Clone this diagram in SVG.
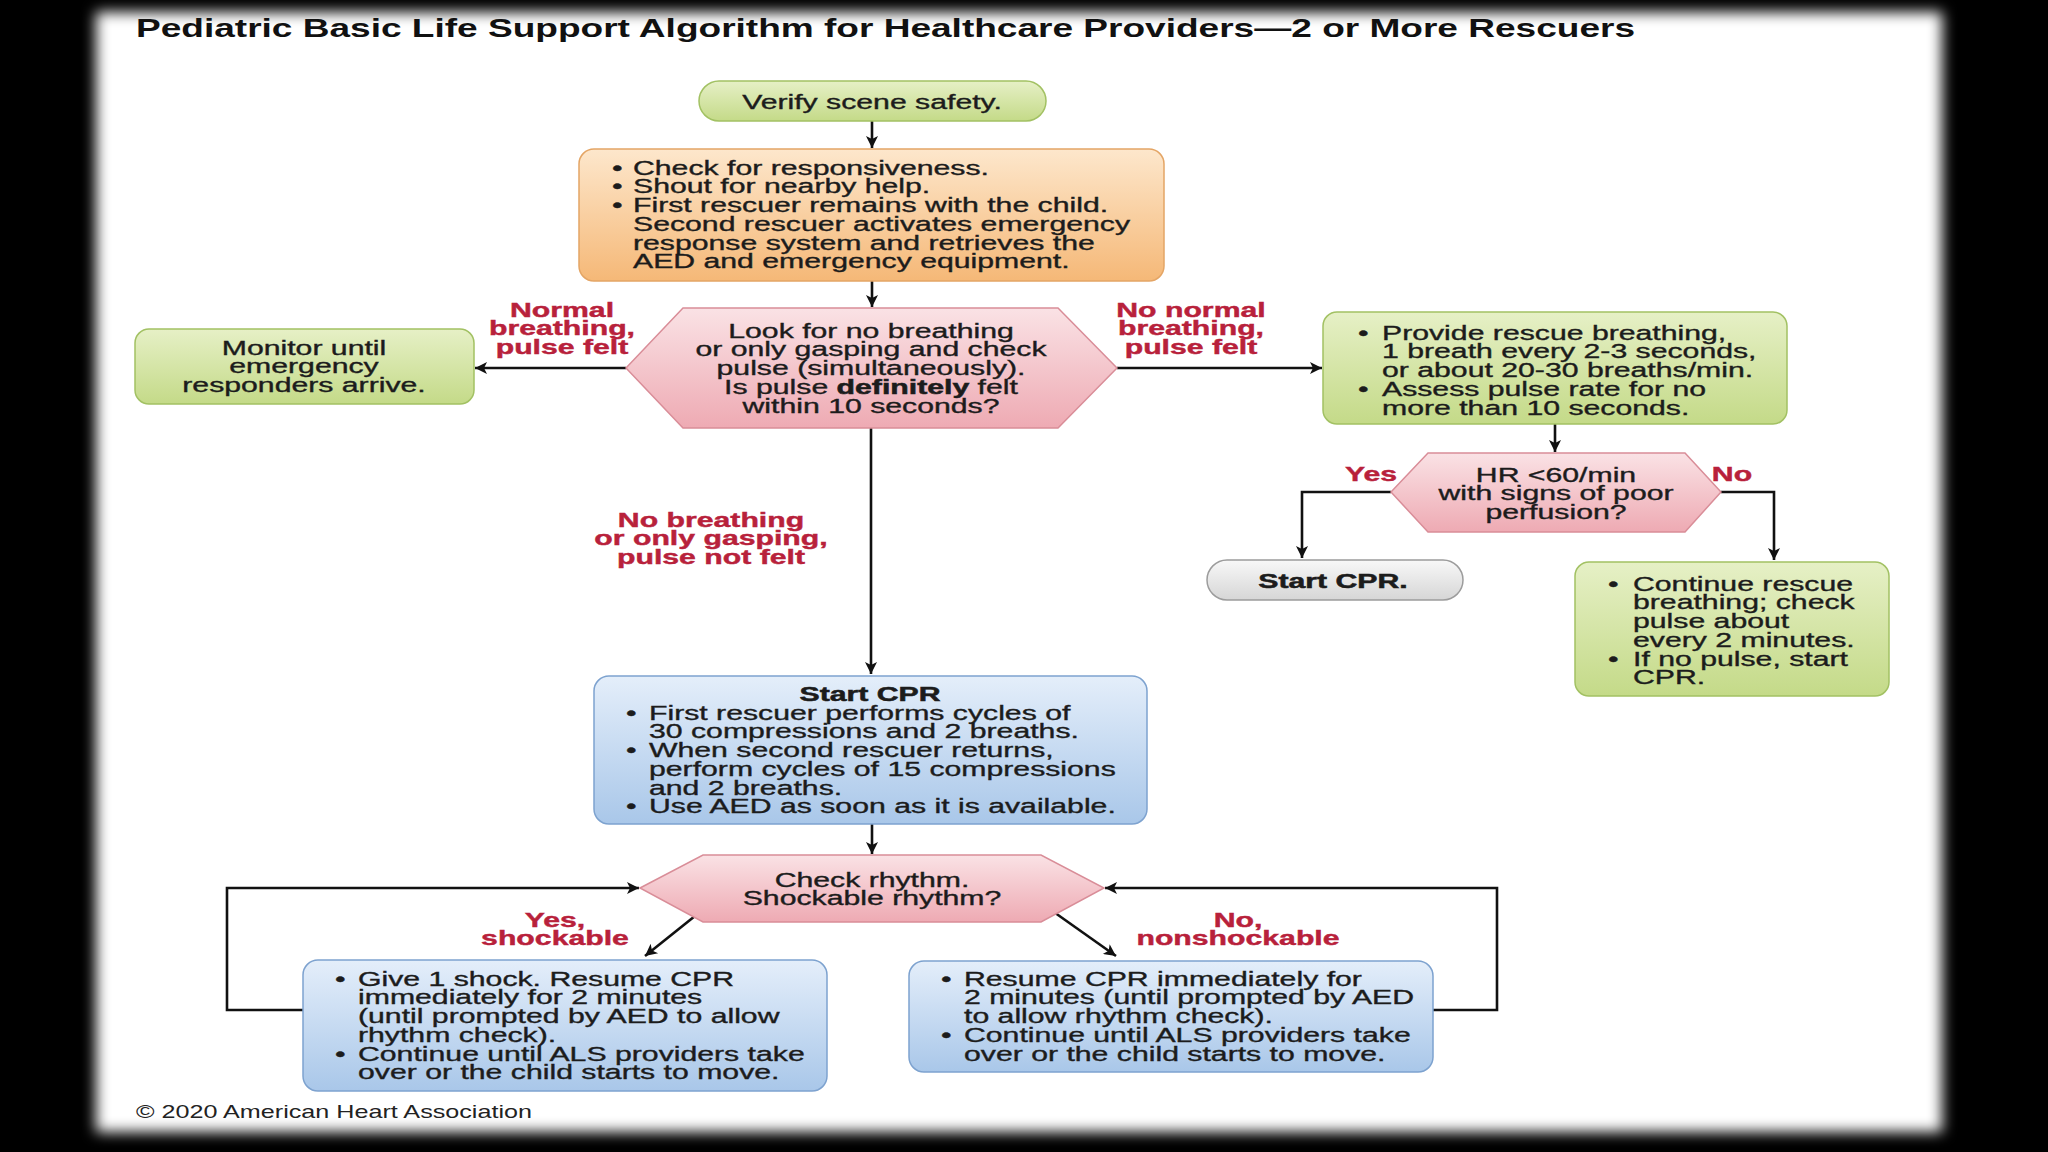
<svg xmlns="http://www.w3.org/2000/svg" width="2048" height="1152" viewBox="0 0 2048 1152">
<defs>
<filter id="soft" x="-5%" y="-5%" width="110%" height="110%"><feGaussianBlur stdDeviation="7"/></filter>
<linearGradient id="gGreen" x1="0" y1="0" x2="0" y2="1"><stop offset="0" stop-color="#e6f0c6"/><stop offset="1" stop-color="#c4da88"/></linearGradient>
<linearGradient id="gOrange" x1="0" y1="0" x2="0" y2="1"><stop offset="0" stop-color="#fde7cc"/><stop offset="1" stop-color="#f5b877"/></linearGradient>
<linearGradient id="gPink" x1="0" y1="0" x2="0" y2="1"><stop offset="0" stop-color="#fae2e5"/><stop offset="1" stop-color="#eeaab3"/></linearGradient>
<linearGradient id="gBlue" x1="0" y1="0" x2="0" y2="1"><stop offset="0" stop-color="#e4eefa"/><stop offset="1" stop-color="#a9c7e9"/></linearGradient>
<linearGradient id="gGray" x1="0" y1="0" x2="0" y2="1"><stop offset="0" stop-color="#f8f8f8"/><stop offset="1" stop-color="#d6d6d6"/></linearGradient>
<marker id="arr" viewBox="0 0 10 10" markerWidth="14" markerHeight="12" refX="10" refY="5" orient="auto" markerUnits="userSpaceOnUse"><path d="M0,0 L10,5 L0,10 L2.5,5 z" fill="#111"/></marker>
<style>
.t{font-family:"Liberation Sans",Arial,sans-serif;font-size:19.5px;fill:#1c1c1c;stroke:#1c1c1c;stroke-width:0.35}
.c{text-anchor:middle}
.b{font-weight:bold;stroke-width:0.5}
.red{font-family:"Liberation Sans",Arial,sans-serif;font-size:19.5px;font-weight:bold;fill:#b8213b;stroke:#b8213b;stroke-width:0.4;text-anchor:middle}
.green{fill:url(#gGreen);stroke:#a2c163;stroke-width:1.5}
.orange{fill:url(#gOrange);stroke:#e4a565;stroke-width:1.5}
.pink{fill:url(#gPink);stroke:#d98d98;stroke-width:1.5}
.blue{fill:url(#gBlue);stroke:#7da2cf;stroke-width:1.5}
.gray{fill:url(#gGray);stroke:#9c9c9c;stroke-width:1.5}
.conn path{fill:none;stroke:#111;stroke-width:2.6;marker-end:url(#arr)}
</style>
</defs>
<rect x="0" y="0" width="2048" height="1152" fill="#000"/>
<rect x="96" y="12" width="1846" height="1120" fill="#fff" filter="url(#soft)"/>

<text x="136" y="37" font-family="'Liberation Sans',Arial,sans-serif" font-size="26" font-weight="bold" fill="#111" textLength="1499" lengthAdjust="spacingAndGlyphs">Pediatric Basic Life Support Algorithm for Healthcare Providers—2 or More Rescuers</text>

<g class="conn">
<path d="M872,121 L872,148"/>
<path d="M872,281 L872,307"/>
<path d="M626,368 L475,368"/>
<path d="M1117,368 L1322,368"/>
<path d="M1555,424 L1555,452"/>
<path d="M1391,492 L1302,492 L1302,558"/>
<path d="M1721,492 L1774,492 L1774,560"/>
<path d="M871,428 L871,674"/>
<path d="M872,824 L872,854"/>
<path d="M700,912 L645,956"/>
<path d="M1051,910 L1116,956"/>
<path d="M303,1010 L227,1010 L227,888 L639,888"/>
<path d="M1433,1010 L1497,1010 L1497,888 L1105,888"/>
</g>

<g id="verify">
<rect class="green" x="699" y="81" width="347" height="40" rx="20"/>
<text class="t c" transform="translate(872,109) scale(1.55,1)"><tspan x="0">Verify scene safety.</tspan></text>
</g>

<g id="check">
<rect class="orange" x="579" y="149" width="585" height="132" rx="15"/>
<text class="t" transform="translate(612,174.5) scale(1.55,1)"><tspan x="0" y="0">•</tspan><tspan x="0" y="18.8">•</tspan><tspan x="0" y="37.6">•</tspan></text>
<text class="t" transform="translate(633,174.5) scale(1.55,1)"><tspan x="0" y="0">Check for responsiveness.</tspan><tspan x="0" y="18.8">Shout for nearby help.</tspan><tspan x="0" y="37.6">First rescuer remains with the child.</tspan><tspan x="0" y="56.4">Second rescuer activates emergency</tspan><tspan x="0" y="75.2">response system and retrieves the</tspan><tspan x="0" y="94">AED and emergency equipment.</tspan></text>
</g>

<g id="look">
<polygon class="pink" points="626,368 683,308 1058,308 1117,368 1058,428 683,428"/>
<text class="t c" transform="translate(871,337.5) scale(1.55,1)"><tspan x="0" y="0">Look for no breathing</tspan><tspan x="0" y="18.8">or only gasping and check</tspan><tspan x="0" y="37.6">pulse (simultaneously).</tspan><tspan x="0" y="56.4">Is pulse <tspan class="b">definitely</tspan> felt</tspan><tspan x="0" y="75.2">within 10 seconds?</tspan></text>
</g>

<g id="lbl-normal">
<text class="red" transform="translate(562,317) scale(1.55,1)"><tspan x="0" y="0">Normal</tspan><tspan x="0" y="18.4">breathing,</tspan><tspan x="0" y="36.8">pulse felt</tspan></text>
</g>
<g id="lbl-nonormal">
<text class="red" transform="translate(1191,317) scale(1.55,1)"><tspan x="0" y="0">No normal</tspan><tspan x="0" y="18.4">breathing,</tspan><tspan x="0" y="36.8">pulse felt</tspan></text>
</g>

<g id="monitor">
<rect class="green" x="135" y="329" width="339" height="75" rx="14"/>
<text class="t c" transform="translate(304,354.5) scale(1.55,1)"><tspan x="0" y="0">Monitor until</tspan><tspan x="0" y="18.8">emergency</tspan><tspan x="0" y="37.6">responders arrive.</tspan></text>
</g>

<g id="rescue">
<rect class="green" x="1323" y="312" width="464" height="112" rx="14"/>
<text class="t" transform="translate(1358,339.5) scale(1.55,1)"><tspan x="0" y="0">•</tspan><tspan x="0" y="56.4">•</tspan></text>
<text class="t" transform="translate(1382,339.5) scale(1.55,1)"><tspan x="0" y="0">Provide rescue breathing,</tspan><tspan x="0" y="18.8">1 breath every 2-3 seconds,</tspan><tspan x="0" y="37.6">or about 20-30 breaths/min.</tspan><tspan x="0" y="56.4">Assess pulse rate for no</tspan><tspan x="0" y="75.2">more than 10 seconds.</tspan></text>
</g>

<g id="hr">
<polygon class="pink" points="1391,492 1428,453 1685,453 1721,492 1685,532 1428,532"/>
<text class="t c" transform="translate(1556,481.5) scale(1.55,1)"><tspan x="0" y="0">HR &lt;60/min</tspan><tspan x="0" y="18.8">with signs of poor</tspan><tspan x="0" y="37.6">perfusion?</tspan></text>
</g>
<g id="lbl-yes"><text class="red" transform="translate(1371,481) scale(1.55,1)">Yes</text></g>
<g id="lbl-no"><text class="red" transform="translate(1732,481) scale(1.55,1)">No</text></g>

<g id="startcpr-pill">
<rect class="gray" x="1207" y="560" width="256" height="40" rx="20"/>
<text class="t c b" transform="translate(1333,588) scale(1.55,1)">Start CPR.</text>
</g>

<g id="continue">
<rect class="green" x="1575" y="562" width="314" height="134" rx="14"/>
<text class="t" transform="translate(1608,590.5) scale(1.55,1)"><tspan x="0" y="0">•</tspan><tspan x="0" y="75.2">•</tspan></text>
<text class="t" transform="translate(1633,590.5) scale(1.55,1)"><tspan x="0" y="0">Continue rescue</tspan><tspan x="0" y="18.8">breathing; check</tspan><tspan x="0" y="37.6">pulse about</tspan><tspan x="0" y="56.4">every 2 minutes.</tspan><tspan x="0" y="75.2">If no pulse, start</tspan><tspan x="0" y="94">CPR.</tspan></text>
</g>

<g id="lbl-nobreathing">
<text class="red" transform="translate(711,527) scale(1.55,1)"><tspan x="0" y="0">No breathing</tspan><tspan x="0" y="18.4">or only gasping,</tspan><tspan x="0" y="36.8">pulse not felt</tspan></text>
</g>

<g id="cpr">
<rect class="blue" x="594" y="676" width="553" height="148" rx="15"/>
<text class="t c b" transform="translate(870,700.5) scale(1.55,1)">Start CPR</text>
<text class="t" transform="translate(626,719.5) scale(1.55,1)"><tspan x="0" y="0">•</tspan><tspan x="0" y="37.6">•</tspan><tspan x="0" y="94">•</tspan></text>
<text class="t" transform="translate(649,719.5) scale(1.55,1)"><tspan x="0" y="0">First rescuer performs cycles of</tspan><tspan x="0" y="18.8">30 compressions and 2 breaths.</tspan><tspan x="0" y="37.6">When second rescuer returns,</tspan><tspan x="0" y="56.4">perform cycles of 15 compressions</tspan><tspan x="0" y="75.2">and 2 breaths.</tspan><tspan x="0" y="94">Use AED as soon as it is available.</tspan></text>
</g>

<g id="rhythm">
<polygon class="pink" points="640,888 703,855 1041,855 1104,888 1041,922 703,922"/>
<text class="t c" transform="translate(872,886.5) scale(1.55,1)"><tspan x="0" y="0">Check rhythm.</tspan><tspan x="0" y="18.8">Shockable rhythm?</tspan></text>
</g>
<g id="lbl-shock"><text class="red" transform="translate(555,927) scale(1.55,1)"><tspan x="0" y="0">Yes,</tspan><tspan x="0" y="18.4">shockable</tspan></text></g>
<g id="lbl-nonshock"><text class="red" transform="translate(1238,927) scale(1.55,1)"><tspan x="0" y="0">No,</tspan><tspan x="0" y="18.4">nonshockable</tspan></text></g>

<g id="shock">
<rect class="blue" x="303" y="960" width="524" height="131" rx="15"/>
<text class="t" transform="translate(335,985.5) scale(1.55,1)"><tspan x="0" y="0">•</tspan><tspan x="0" y="75.2">•</tspan></text>
<text class="t" transform="translate(358,985.5) scale(1.55,1)"><tspan x="0" y="0">Give 1 shock. Resume CPR</tspan><tspan x="0" y="18.8">immediately for 2 minutes</tspan><tspan x="0" y="37.6">(until prompted by AED to allow</tspan><tspan x="0" y="56.4">rhythm check).</tspan><tspan x="0" y="75.2">Continue until ALS providers take</tspan><tspan x="0" y="94">over or the child starts to move.</tspan></text>
</g>

<g id="nonshock">
<rect class="blue" x="909" y="961" width="524" height="111" rx="15"/>
<text class="t" transform="translate(941,985.5) scale(1.55,1)"><tspan x="0" y="0">•</tspan><tspan x="0" y="56.4">•</tspan></text>
<text class="t" transform="translate(964,985.5) scale(1.55,1)"><tspan x="0" y="0">Resume CPR immediately for</tspan><tspan x="0" y="18.8">2 minutes (until prompted by AED</tspan><tspan x="0" y="37.6">to allow rhythm check).</tspan><tspan x="0" y="56.4">Continue until ALS providers take</tspan><tspan x="0" y="75.2">over or the child starts to move.</tspan></text>
</g>

<text x="136" y="1118" font-family="'Liberation Sans',Arial,sans-serif" font-size="19" fill="#222" textLength="396" lengthAdjust="spacingAndGlyphs">© 2020 American Heart Association</text>
</svg>
